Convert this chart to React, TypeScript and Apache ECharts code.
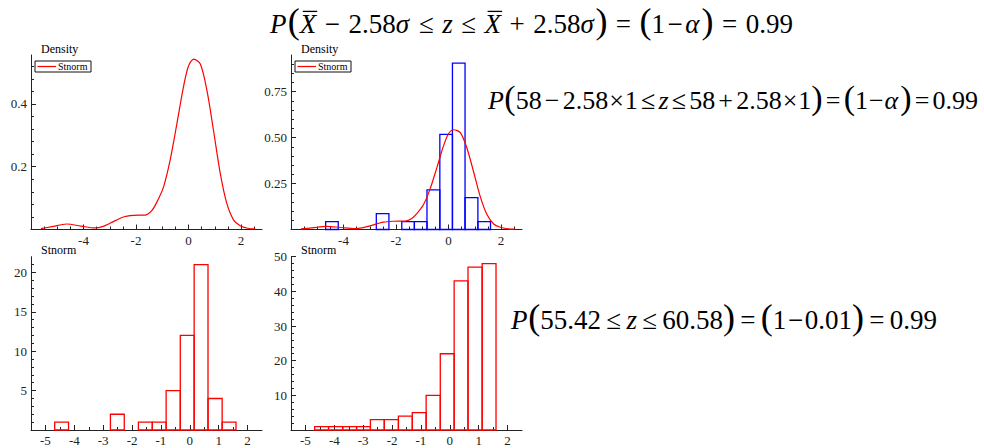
import React, { useEffect, useRef } from "react";
import * as echarts from "echarts";

// Histogram bins of Stnorm (left edges plus final right edge)
const binEdges = [-4.68, -4.2, -3.71, -3.23, -2.75, -2.27, -1.78, -1.3, -0.82, -0.33, 0.15, 0.63, 1.12, 1.6];
const binCounts = [1, 0, 0, 0, 2, 0, 1, 1, 5, 12, 21, 4, 1];
const binDensity = [0.043, 0, 0, 0, 0.086, 0, 0.043, 0.043, 0.216, 0.518, 0.906, 0.173, 0.043];
const binCumulative = [1, 1, 1, 1, 3, 3, 4, 5, 10, 22, 43, 47, 48];

// Smoothed density estimate of Stnorm
const densityX = [-5.62, -5.2, -4.64, -4.1, -3.56, -3.25, -2.99, -2.48, -2.1, -1.65, -1.4, -1.2, -0.95, -0.7, -0.44, -0.19, 0.0, 0.2, 0.45, 0.7, 0.95, 1.21, 1.46, 1.72, 1.97, 2.25, 2.54];
const densityY = [0.003, 0.009, 0.0175, 0.011, 0.005, 0.01, 0.02, 0.04, 0.045, 0.046, 0.06, 0.088, 0.136, 0.221, 0.338, 0.455, 0.521, 0.543, 0.527, 0.444, 0.317, 0.179, 0.083, 0.03, 0.012, 0.004, 0.002];

// Tick values
const topXMajor = [-4, -2, 0, 2];
const topXMinor = [-5.5, -5, -4.5, -3.5, -3, -2.5, -1.5, -1, -0.5, 0.5, 1, 1.5, 2.5];
const bottomXMajor = [-5, -4, -3, -2, -1, 0, 1, 2];
const bottomXMinor = [-4.5, -3.5, -2.5, -1.5, -0.5, 0.5, 1.5];
const densYMajor = [0.2, 0.4];
const densYMinor = [0.04, 0.08, 0.12, 0.16, 0.24, 0.28, 0.32, 0.36, 0.44, 0.48, 0.52];
const histDensYMajor = [0.25, 0.5, 0.75];
const histDensYMinor = [0.05, 0.1, 0.15, 0.2, 0.3, 0.35, 0.4, 0.45, 0.55, 0.6, 0.65, 0.7, 0.8, 0.85, 0.9];
const countYMajor = [5, 10, 15, 20];
const countYMinor = [1, 2, 3, 4, 6, 7, 8, 9, 11, 12, 13, 14, 16, 17, 18, 19, 21];
const cumYMajor = [10, 20, 30, 40, 50];
const cumYMinor = [2, 4, 6, 8, 12, 14, 16, 18, 22, 24, 26, 28, 32, 34, 36, 38, 42, 44, 46, 48];

// Formulas: tokens with italic / big-paren / overline flags and spacing weight before each
type Tok = { t: string; it?: boolean; big?: boolean; ov?: boolean; g?: number };
const formulaGeneral: Tok[] = [
  { t: "P", it: true }, { t: "(", big: true, g: 0.15 }, { t: "X", it: true, ov: true },
  { t: "−", g: 1 }, { t: "2.58", g: 1 }, { t: "σ", it: true }, { t: "≤", g: 1 }, { t: "z", it: true, g: 1 },
  { t: "≤", g: 1 }, { t: "X", it: true, ov: true, g: 1 }, { t: "+", g: 1 }, { t: "2.58", g: 1 }, { t: "σ", it: true },
  { t: ")", big: true }, { t: "=", g: 1 }, { t: "(", big: true, g: 1 }, { t: "1" }, { t: "−", g: 0.3 },
  { t: "α", it: true, g: 0.3 }, { t: ")", big: true }, { t: "=", g: 1 }, { t: "0.99", g: 1 },
];
const formulaValues: Tok[] = [
  { t: "P", it: true }, { t: "(", big: true, g: 0.15 }, { t: "58" }, { t: "−", g: 1 }, { t: "2.58", g: 1 },
  { t: "×", g: 0.3 }, { t: "1", g: 0.3 }, { t: "≤", g: 1 }, { t: "z", it: true, g: 1 }, { t: "≤", g: 1 },
  { t: "58", g: 1 }, { t: "+", g: 1 }, { t: "2.58", g: 1 }, { t: "×", g: 0.3 }, { t: "1", g: 0.3 },
  { t: ")", big: true }, { t: "=", g: 1 }, { t: "(", big: true, g: 1 }, { t: "1" }, { t: "−", g: 0.3 },
  { t: "α", it: true, g: 0.3 }, { t: ")", big: true }, { t: "=", g: 1 }, { t: "0.99", g: 1 },
];
const formulaResult: Tok[] = [
  { t: "P", it: true }, { t: "(", big: true, g: 0.15 }, { t: "55.42" }, { t: "≤", g: 1 }, { t: "z", it: true, g: 1 },
  { t: "≤", g: 1 }, { t: "60.58", g: 1 }, { t: ")", big: true }, { t: "=", g: 1 }, { t: "(", big: true, g: 1 },
  { t: "1" }, { t: "−", g: 0.3 }, { t: "0.01", g: 0.3 }, { t: ")", big: true }, { t: "=", g: 1 }, { t: "0.99", g: 1 },
];

const SERIF = "'Liberation Serif'";
const AXIS_COLOR = "#222";

// Advance widths (em) of the serif face for the glyphs used in the formulas
const GLYPH_EM: Record<string, number> = {
  ".": 0.25, "(": 0.333, ")": 0.333, "+": 0.564, "=": 0.564, "−": 0.564, "×": 0.564, "≤": 0.549,
  P: 0.611, X: 0.611, z: 0.389, "σ": 0.55, "α": 0.6,
};
const textWidth = (s: string, size: number) =>
  s.split("").reduce((a, ch) => a + (GLYPH_EM[ch] ?? 0.5) * size, 0);

function layoutFormula(toks: Tok[], left: number, right: number, baseline: number, size: number) {
  const fsOf = (tk: Tok) => (tk.big ? Math.round(size * 1.32) : size);
  const widths = toks.map((tk) => textWidth(tk.t, fsOf(tk)));
  const glyphTotal = widths.reduce((a, b) => a + b, 0);
  const units = toks.reduce((a, tk) => a + (tk.g || 0), 0);
  const unit = Math.max(0, (right - left - glyphTotal) / units);
  const els: any[] = [];
  let x = left;
  toks.forEach((tk, i) => {
    x += (tk.g || 0) * unit;
    const fs = fsOf(tk);
    els.push({
      type: "text",
      x,
      y: baseline - 0.34 * fs,
      style: {
        text: tk.t,
        fontFamily: SERIF,
        fontSize: fs,
        fontStyle: tk.it ? "italic" : "normal",
        fill: "#000",
        align: "left",
        verticalAlign: "middle",
      },
    });
    if (tk.ov) {
      const oy = baseline - 0.8 * size;
      els.push({
        type: "line",
        shape: { x1: x + 3, y1: oy, x2: x + widths[i] + 1, y2: oy },
        style: { stroke: "#000", lineWidth: 1.3 },
      });
    }
    x += widths[i];
  });
  return els;
}

const labelStyle = { fontFamily: SERIF, fontSize: 13, color: AXIS_COLOR };

function xAxesFor(grid: number, min: number, max: number, major: number[], minor: number[]) {
  return [
    {
      type: "value", gridIndex: grid, min, max, position: "bottom",
      axisLine: { show: true, onZero: false, lineStyle: { color: AXIS_COLOR, width: 1 } },
      axisTick: { show: true, inside: true, length: 5, customValues: major, lineStyle: { color: AXIS_COLOR } },
      axisLabel: { show: true, customValues: major, margin: 4, ...labelStyle },
      splitLine: { show: false },
    },
    {
      type: "value", gridIndex: grid, min, max, position: "bottom",
      axisLine: { show: false, onZero: false },
      axisTick: { show: true, inside: true, length: 3, customValues: minor, lineStyle: { color: AXIS_COLOR } },
      axisLabel: { show: false },
      splitLine: { show: false },
    },
  ];
}

function yAxesFor(grid: number, max: number, major: number[], minor: number[], fmt?: (v: number) => string) {
  return [
    {
      type: "value", gridIndex: grid, min: 0, max, position: "left",
      axisLine: { show: true, onZero: false, lineStyle: { color: AXIS_COLOR, width: 1 } },
      axisTick: { show: true, inside: true, length: 5, customValues: major, lineStyle: { color: AXIS_COLOR } },
      axisLabel: { show: true, customValues: major, margin: 4, ...labelStyle, formatter: fmt },
      splitLine: { show: false },
    },
    {
      type: "value", gridIndex: grid, min: 0, max, position: "left",
      axisLine: { show: false, onZero: false },
      axisTick: { show: true, inside: true, length: 3, customValues: minor, lineStyle: { color: AXIS_COLOR } },
      axisLabel: { show: false },
      splitLine: { show: false },
    },
  ];
}

function histSeries(axis: number, values: number[], color: string) {
  const data = values
    .map((v, i) => [binEdges[i], binEdges[i + 1], v])
    .filter((d) => d[2] > 0);
  return {
    type: "custom",
    xAxisIndex: axis,
    yAxisIndex: axis,
    data,
    encode: { x: [0, 1], y: 2 },
    renderItem: (params: any, api: any) => {
      const p0 = api.coord([api.value(0), 0]);
      const p1 = api.coord([api.value(1), api.value(2)]);
      return {
        type: "rect",
        shape: { x: p0[0], y: p1[1], width: p1[0] - p0[0], height: p0[1] - p1[1] },
        style: { fill: "none", stroke: color, lineWidth: 1.3 },
      };
    },
  };
}

function legendBox(left: number) {
  return [
    { type: "rect", shape: { x: left, y: 61, width: 56, height: 11 }, style: { fill: "#fff", stroke: "#111", lineWidth: 1 } },
    { type: "line", shape: { x1: left + 2.5, y1: 66.5, x2: left + 21, y2: 66.5 }, style: { stroke: "#ff0000", lineWidth: 1.2 } },
    { type: "text", x: left + 23, y: 66.5, style: { text: "Stnorm", fontFamily: SERIF, fontSize: 10, fill: "#000", align: "left", verticalAlign: "middle" } },
  ];
}

function axisTitle(x: number, y: number, text: string) {
  return { type: "text", x, y, style: { text, fontFamily: SERIF, fontSize: 12, fill: "#000", align: "left", verticalAlign: "middle" } };
}

export default function App() {
  const ref = useRef<HTMLDivElement>(null);

  useEffect(() => {
    if (!ref.current) return;
    const chart = echarts.init(ref.current, null, { renderer: "svg" });
    const curve = densityX.map((x, i) => [x, densityY[i]]);

    const option: any = {
      animation: false,
      textStyle: { fontFamily: SERIF },
      grid: [
        { left: 31, top: 55, width: 231, height: 174.5 },
        { left: 291, top: 55, width: 231, height: 174.5 },
        { left: 31, top: 256.7, width: 231, height: 173.3 },
        { left: 291, top: 256.7, width: 231, height: 173.3 },
      ],
      xAxis: [
        ...xAxesFor(0, -6, 2.8, topXMajor, topXMinor),
        ...xAxesFor(1, -6, 2.8, topXMajor, topXMinor),
        ...xAxesFor(2, -5.5, 2.5, bottomXMajor, bottomXMinor),
        ...xAxesFor(3, -5.5, 2.5, bottomXMajor, bottomXMinor),
      ],
      yAxis: [
        ...yAxesFor(0, 0.556, densYMajor, densYMinor),
        ...yAxesFor(1, 0.95, histDensYMajor, histDensYMinor, (v: number) => v.toFixed(2)),
        ...yAxesFor(2, 22, countYMajor, countYMinor),
        ...yAxesFor(3, 50, cumYMajor, cumYMinor),
      ],
      series: [
        {
          type: "line", xAxisIndex: 0, yAxisIndex: 0, data: curve, smooth: 0.3,
          showSymbol: false, lineStyle: { color: "#ff0000", width: 1.2 }, z: 3,
        },
        histSeries(2, binDensity, "#0000ff"),
        {
          type: "line", xAxisIndex: 2, yAxisIndex: 2, data: curve, smooth: 0.3,
          showSymbol: false, lineStyle: { color: "#ff0000", width: 1.2 }, z: 3,
        },
        histSeries(4, binCounts, "#ff0000"),
        histSeries(6, binCumulative, "#ff0000"),
      ],
      graphic: [
        axisTitle(41, 49, "Density"),
        axisTitle(301, 49, "Density"),
        axisTitle(41, 250, "Stnorm"),
        axisTitle(301, 250, "Stnorm"),
        ...legendBox(35),
        ...legendBox(295),
        ...layoutFormula(formulaGeneral, 270, 793, 33, 27),
        ...layoutFormula(formulaValues, 488, 978, 109, 26),
        ...layoutFormula(formulaResult, 511, 937, 329, 27),
      ],
    };
    chart.setOption(option);
    return () => chart.dispose();
  }, []);

  return (
    <div
      ref={ref}
      style={{ position: "fixed", left: 0, top: 0, width: 984, height: 448, background: "#fff" }}
    />
  );
}
